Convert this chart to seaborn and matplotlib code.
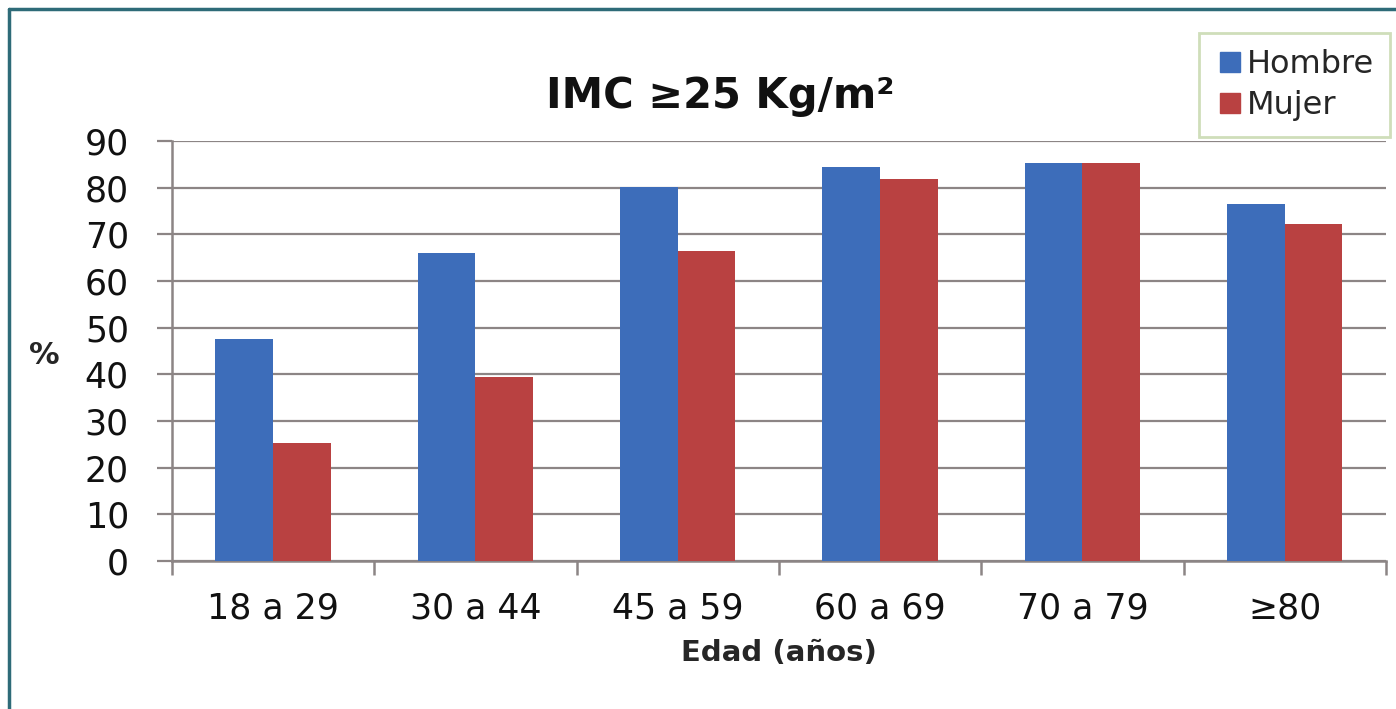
import pandas as pd
import seaborn as sns
import matplotlib.pyplot as plt
from matplotlib.lines import Line2D

# Data
edades = ["18 a 29", "30 a 44", "45 a 59", "60 a 69", "70 a 79", "≥80"]
hombre = [47.6, 66.0, 80.1, 84.4, 85.4, 76.6]
mujer = [25.2, 39.5, 66.4, 81.9, 85.4, 72.2]
sexos = ["Hombre", "Mujer"]
colores = ["#3d6dba", "#b94141"]

df = pd.DataFrame({
    "Edad": edades * 2,
    "Sexo": ["Hombre"] * len(edades) + ["Mujer"] * len(edades),
    "Valor": hombre + mujer,
})

sns.set_theme(style="white")
plt.rcParams["font.family"] = ["DejaVu Sans"]

fig = plt.figure(figsize=(13.96, 7.09), dpi=100)
ax = fig.add_axes([0.1232, 0.2087, 0.8696, 0.5923])

sns.barplot(data=df, x="Edad", y="Valor", hue="Sexo", order=edades,
            hue_order=sexos, palette=colores, width=0.57, saturation=1,
            linewidth=0, ax=ax, legend=False, zorder=3)

grid_col = "#8c8585"
ax.set_ylim(0, 90)
ax.set_xlim(-0.5, len(edades) - 0.5)
ax.set_yticks(range(0, 91, 10))
ax.yaxis.grid(True, color=grid_col, linewidth=1.6, zorder=0)
ax.set_axisbelow(True)
for s in ["top", "right"]:
    ax.spines[s].set_visible(False)
for s in ["left", "bottom"]:
    ax.spines[s].set_color(grid_col)
    ax.spines[s].set_linewidth(1.8)

# tick marks on category boundaries
ax.set_xticks([i - 0.5 for i in range(len(edades) + 1)], minor=True)
ax.tick_params(axis="x", which="major", length=0, pad=22, labelsize=25,
               labelcolor="#111111")
ax.tick_params(axis="x", which="minor", length=10, width=1.8, color=grid_col,
               direction="out", bottom=True)
ax.tick_params(axis="y", length=11, width=1.6, color=grid_col, pad=20,
               labelsize=25, labelcolor="#111111", left=True)

ax.set_xlabel("Edad (años)", fontsize=21, fontweight="bold", labelpad=10)
ax.set_ylabel("%", fontsize=22, fontweight="bold", rotation=0,
              va="center", ha="center")
ax.yaxis.set_label_coords(-0.105, 0.49)

fig.text(0.516, 0.865, "IMC ≥25 Kg/m²", ha="center", va="center",
         fontsize=30, fontweight="bold", color="#111111")

handles = [Line2D([], [], marker="s", linestyle="", markersize=15,
                  color=c) for c in colores]
leg = fig.legend(handles, sexos, loc="upper right",
                 bbox_to_anchor=(0.996, 0.953), fontsize=23, frameon=True,
                 fancybox=False, handletextpad=0.1, borderpad=0.5,
                 labelspacing=0.3, handlelength=0.9, borderaxespad=0)
leg.get_frame().set_edgecolor("#c3d6a9")
leg.get_frame().set_linewidth(2)

# figure border (left and top only)
fig.add_artist(Line2D([0.0065, 0.0065], [0, 0.988], color="#2e6b78",
                      linewidth=2.5, transform=fig.transFigure))
fig.add_artist(Line2D([0.0065, 1], [0.988, 0.988], color="#2e6b78",
                      linewidth=2.5, transform=fig.transFigure))

fig.savefig("out.png", dpi=100)
